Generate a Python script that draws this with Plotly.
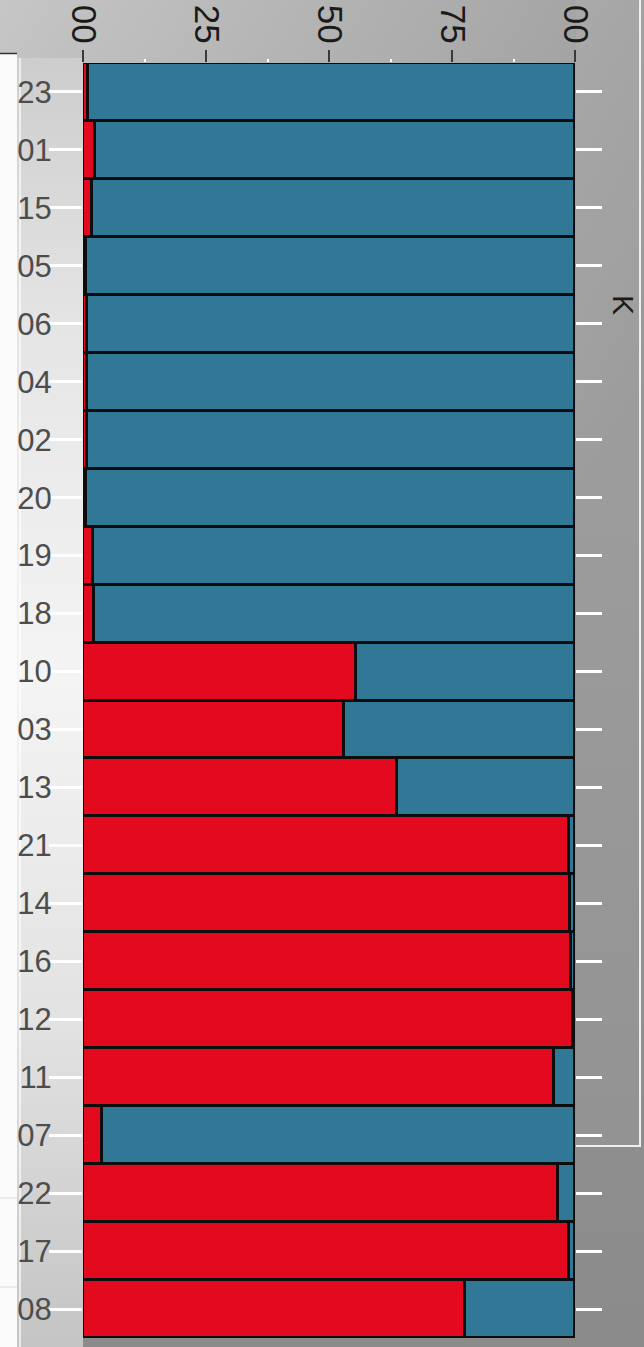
import base64
import plotly.graph_objects as go

# Ancestry proportions (K = 2) per sample, listed top to bottom
samples = ["23", "01", "15", "05", "06", "04", "02", "20", "19", "18", "10",
           "03", "13", "21", "14", "16", "12", "11", "07", "22", "17", "08"]
cluster_red = [0.010, 0.024, 0.018, 0.006, 0.008, 0.009, 0.008, 0.006, 0.020, 0.022, 0.555,
               0.530, 0.638, 0.988, 0.990, 0.992, 0.995, 0.957, 0.038, 0.965, 0.988, 0.777]
cluster_blue = [0.990, 0.976, 0.982, 0.994, 0.992, 0.991, 0.992, 0.994, 0.980, 0.978, 0.445,
                0.470, 0.362, 0.012, 0.010, 0.008, 0.005, 0.043, 0.962, 0.035, 0.012, 0.223]
x_tickvals = [0, 0.25, 0.5, 0.75, 1.0]
x_ticktext = ["00", "25", "50", "75", "00"]

W, H = 644, 1347
M_L, M_R, M_T, M_B = 83, 69, 63, 9
PW, PH = W - M_L - M_R, H - M_T - M_B

RED = "#e3091e"
BLUE = "#317896"
FONT = "Liberation Sans, Arial, sans-serif"

# Shaded backdrop drawn as an SVG behind the plotting area
svg = f"""<svg xmlns='http://www.w3.org/2000/svg' width='{W}' height='{H}' viewBox='0 0 {W} {H}'>
<defs>
<linearGradient id='bg' x1='0' y1='0' x2='{W}' y2='400' gradientUnits='userSpaceOnUse'>
<stop offset='0' stop-color='#c6c6c6'/>
<stop offset='0.35' stop-color='#b4b4b4'/>
<stop offset='0.7' stop-color='#a3a3a3'/>
<stop offset='1' stop-color='#979797'/>
</linearGradient>
<linearGradient id='side' x1='0' y1='0' x2='0' y2='1'>
<stop offset='0' stop-color='#cdcdcd'/>
<stop offset='0.22' stop-color='#e6e6e6'/>
<stop offset='0.48' stop-color='#f4f4f4'/>
<stop offset='0.75' stop-color='#e2e2e2'/>
<stop offset='1' stop-color='#c4c4c4'/>
</linearGradient>
<linearGradient id='dark' x1='0' y1='0' x2='0' y2='1'>
<stop offset='0' stop-color='#000' stop-opacity='0'/>
<stop offset='1' stop-color='#000' stop-opacity='0.08'/>
</linearGradient>
</defs>
<rect width='{W}' height='{H}' fill='url(#bg)'/>
<rect x='0' y='500' width='{W}' height='{H-500}' fill='url(#dark)'/>
<rect x='17' y='58' width='66' height='{H-58}' fill='url(#side)'/>
<rect x='0' y='53' width='17' height='{H-53}' fill='#fbfbfb'/>
<line x1='0' y1='53.5' x2='17' y2='53.5' stroke='#333' stroke-width='1.5'/>
<line x1='0' y1='1198' x2='17' y2='1198' stroke='#dddddd' stroke-width='1'/>
<line x1='0' y1='1287' x2='17' y2='1287' stroke='#dddddd' stroke-width='1'/>
<line x1='20' y1='58' x2='20' y2='{H}' stroke='#ffffff' stroke-opacity='0.85' stroke-width='1.5'/>
<rect x='576' y='0' width='64' height='1146' fill='#ffffff' fill-opacity='0.05'/>
<line x1='640' y1='0' x2='640' y2='1146' stroke='#eeeeee' stroke-width='2'/>
<line x1='576' y1='1146' x2='641' y2='1146' stroke='#eeeeee' stroke-width='2'/>
</svg>"""
bg_uri = "data:image/svg+xml;base64," + base64.b64encode(svg.encode()).decode()

fig = go.Figure()
fig.add_trace(go.Bar(
    y=samples, x=cluster_red, orientation="h", name="Cluster 1",
    marker=dict(color=RED, line=dict(color="#0d0d0d", width=3)),
))
fig.add_trace(go.Bar(
    y=samples, x=cluster_blue, orientation="h", name="Cluster 2",
    marker=dict(color=BLUE, line=dict(color="#0d0d0d", width=3)),
))
# invisible trace that carries the right-hand tick marks
fig.add_trace(go.Scatter(
    y=samples, x=cluster_red, yaxis="y2", mode="markers",
    marker=dict(opacity=0), hoverinfo="skip", showlegend=False,
))

y_range = [len(samples) - 0.5, -0.5]

fig.update_layout(
    width=W, height=H,
    margin=dict(l=M_L, r=M_R, t=M_T, b=M_B),
    barmode="stack", bargap=0,
    showlegend=False,
    paper_bgcolor="rgba(0,0,0,0)",
    plot_bgcolor="rgba(0,0,0,0)",
    xaxis=dict(
        side="top", range=[0, 1], tickvals=x_tickvals, ticktext=x_ticktext,
        tickangle=90, tickfont=dict(family=FONT, size=35, color="#1a1a1a"),
        ticks="outside", ticklen=12, tickwidth=2, tickcolor="#3a3a3a",
        ticklabelstandoff=-6,
        minor=dict(dtick=0.125, tick0=0.125, ticks="outside", ticklen=3,
                   tickwidth=2, tickcolor="#ffffff"),
        showgrid=False, zeroline=False, showline=False, automargin=False,
        fixedrange=True,
    ),
    yaxis=dict(
        type="category", categoryorder="array", categoryarray=samples,
        range=y_range,
        tickfont=dict(family=FONT, size=31, color="#4d4d4d"),
        ticks="outside", ticklen=33, tickwidth=3, tickcolor="#ffffff",
        ticklabelstandoff=-9,
        showgrid=False, zeroline=False, showline=False, automargin=False,
    ),
    yaxis2=dict(
        type="category", categoryorder="array", categoryarray=samples,
        overlaying="y", side="right", range=y_range,
        showticklabels=False,
        ticks="outside", ticklen=26, tickwidth=3, tickcolor="#ffffff",
        showgrid=False, zeroline=False, showline=False, automargin=False,
    ),
    images=[dict(
        source=bg_uri, xref="paper", yref="paper",
        x=-M_L / PW, y=1 + M_T / PH, sizex=W / PW, sizey=H / PH,
        xanchor="left", yanchor="top", sizing="stretch", layer="below",
    )],
    annotations=[dict(
        text="K", xref="paper", yref="paper",
        x=(624 - M_L) / PW, y=1 - (305 - M_T) / PH,
        xanchor="center", yanchor="middle",
        showarrow=False, textangle=90,
        font=dict(family=FONT, size=30, color="#1a1a1a"),
    )],
)

fig.write_html("out.html")
